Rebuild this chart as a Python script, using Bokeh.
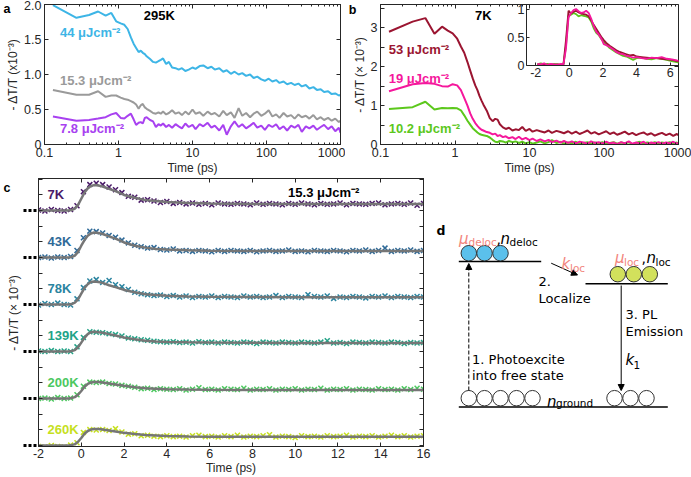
import numpy as np
from bokeh.plotting import figure
from bokeh.layouts import column, row
from bokeh.models import (Range1d, LinearScale, LinearAxis, LogAxis, FixedTicker,
                          CustomJSTickFormatter, Label, Arrow, NormalHead)
from bokeh.embed import file_html
from bokeh.resources import INLINE

FONT = "Liberation Sans"
DFONT = "DejaVu Sans"
AX = "#262626"

# ---------------- data: panels a / b (time in ps, -dT/T x1e-3) ----------------
t_log = [0.13, 0.27, 0.40, 0.53, 0.67, 0.80, 0.93, 1.07, 1.2, 1.33,
         1.47, 1.6, 1.73, 1.87, 2.0, 2.13, 2.27, 2.4, 2.67, 2.93,
         3.2, 3.47, 3.73, 4.0, 4.4, 4.8, 5.3, 5.9, 6.5, 7.2,
         8.0, 8.9, 10, 11, 12.5, 14, 16, 18, 20, 23,
         26, 29, 33, 37, 42, 47, 53, 60, 67, 75,
         85, 95, 107, 120, 135, 150, 170, 190, 215, 240,
         270, 300, 340, 380, 430, 480, 540, 600, 680, 760,
         850, 950, 1000]

a_44 = [1.99, 1.81, 1.85, 1.90, 1.84, 1.88, 1.76, 1.73, 1.71, 1.65,
        1.53, 1.44, 1.38, 1.32, 1.34, 1.31, 1.29, 1.26, 1.22, 1.18,
        1.17, 1.19, 1.21, 1.23, 1.15, 1.18, 1.10, 1.09, 1.07, 1.09,
        1.05, 1.07, 1.10, 1.08, 1.12, 1.13, 1.09, 1.11, 1.07, 1.09,
        1.04, 1.06, 1.01, 1.04, 1.00, 1.02, 0.98, 1.00, 0.95, 0.97,
        0.93, 0.91, 0.94, 0.90, 0.92, 0.88, 0.90, 0.86, 0.88, 0.85,
        0.87, 0.83, 0.85, 0.80, 0.82, 0.78, 0.79, 0.75, 0.76, 0.72,
        0.73, 0.70, 0.71]
a_15 = [0.78, 0.71, 0.71, 0.76, 0.68, 0.70, 0.70, 0.67, 0.65, 0.64,
        0.62, 0.60, 0.57, 0.51, 0.56, 0.58, 0.53, 0.51, 0.48, 0.45,
        0.44, 0.46, 0.44, 0.47, 0.43, 0.45, 0.49, 0.44, 0.46, 0.42,
        0.47, 0.43, 0.50, 0.44, 0.46, 0.41, 0.47, 0.43, 0.45, 0.40,
        0.48, 0.42, 0.46, 0.38, 0.52, 0.41, 0.45, 0.39, 0.44, 0.47,
        0.41, 0.44, 0.49, 0.40, 0.43, 0.38, 0.45, 0.40, 0.42, 0.37,
        0.43, 0.39, 0.41, 0.37, 0.42, 0.36, 0.39, 0.35, 0.38, 0.34,
        0.37, 0.32, 0.34]
a_7 = [0.40, 0.34, 0.35, 0.37, 0.39, 0.43, 0.45, 0.38, 0.37, 0.41,
       0.44, 0.36, 0.28, 0.31, 0.32, 0.30, 0.38, 0.39, 0.35, 0.33,
       0.25, 0.29, 0.27, 0.30, 0.25, 0.28, 0.24, 0.29, 0.26, 0.23,
       0.30, 0.25, 0.28, 0.22, 0.29, 0.26, 0.31, 0.24, 0.27, 0.20,
       0.28, 0.14, 0.26, 0.33, 0.25, 0.29, 0.23, 0.27, 0.31, 0.24,
       0.27, 0.21, 0.28, 0.25, 0.29, 0.22, 0.26, 0.20, 0.27, 0.24,
       0.28, 0.18, 0.26, 0.23, 0.27, 0.21, 0.25, 0.28, 0.22, 0.26,
       0.19, 0.24, 0.17]

b_53 = [2.90, 3.16, 3.25, 2.85, 3.03, 2.93, 2.86, 2.72, 2.52, 2.36,
        2.12, 1.90, 1.70, 1.52, 1.40, 1.25, 1.13, 1.03, 0.87, 0.68,
        0.60, 0.66, 0.64, 0.52, 0.44, 0.40, 0.43, 0.36, 0.39, 0.37,
        0.45, 0.35, 0.40, 0.33, 0.37, 0.34, 0.31, 0.36, 0.30, 0.35,
        0.32, 0.29, 0.34, 0.28, 0.33, 0.27, 0.31, 0.36, 0.28, 0.32,
        0.26, 0.30, 0.34, 0.27, 0.31, 0.25, 0.29, 0.33, 0.26, 0.30,
        0.24, 0.28, 0.31, 0.25, 0.29, 0.23, 0.27, 0.30, 0.24, 0.28,
        0.22, 0.27, 0.24]
b_19 = [1.37, 1.55, 1.58, 1.56, 1.50, 1.49, 1.55, 1.52, 1.40, 1.20,
        1.00, 0.80, 0.66, 0.55, 0.48, 0.42, 0.38, 0.36, 0.32, 0.30,
        0.26, 0.28, 0.22, 0.24, 0.19, 0.21, 0.16, 0.19, 0.14, 0.20,
        0.13, 0.17, 0.11, 0.15, 0.09, 0.13, 0.08, 0.12, 0.06, 0.10,
        0.05, 0.09, 0.04, 0.08, 0.03, 0.07, 0.05, 0.02, 0.08, 0.04,
        0.06, 0.02, 0.07, 0.03, 0.05, 0.01, 0.06, 0.03, 0.08, 0.02,
        0.05, 0.03, 0.07, 0.01, 0.05, 0.03, 0.06, 0.02, 0.05, 0.03,
        0.07, 0.02, 0.04]
b_10 = [0.91, 0.96, 1.10, 0.90, 0.94, 0.93, 0.94, 0.93, 0.88, 0.75,
        0.61, 0.51, 0.42, 0.36, 0.31, 0.27, 0.25, 0.24, 0.22, 0.18,
        0.12, 0.07, 0.06, 0.09, 0.08, 0.05, 0.09, 0.06, 0.08, 0.04,
        0.07, 0.03, 0.06, 0.02, 0.05, 0.08, 0.03, 0.06, 0.11, 0.04,
        0.07, 0.02, 0.05, 0.03, 0.07, 0.01, 0.04, 0.06, 0.02, 0.05,
        0.03, 0.06, 0.01, 0.04, 0.06, 0.02, 0.05, 0.03, 0.06, 0.01,
        0.04, 0.07, 0.02, 0.05, 0.03, 0.06, 0.02, 0.05, 0.03, 0.06,
        0.02, 0.05, 0.03]

# inset of b (normalised)
t_inset = [-1.9, -1.7, -1.5, -1.3, -1.1, -0.9, -0.7, -0.5, -0.35, -0.2,
           -0.05, 0.1, 0.25, 0.4, 0.55, 0.7, 0.85, 1.0, 1.15, 1.3,
           1.45, 1.6, 1.75, 1.9, 2.05, 2.2, 2.4, 2.6, 2.8, 3.0,
           3.2, 3.4, 3.6, 3.8, 4.0, 4.3, 4.6, 4.9, 5.2, 5.5,
           5.8, 6.1, 6.4, 6.6]
in_53 = [0.02, 0.01, 0.02, 0.01, 0.02, 0.01, 0.02, 0.01, 0.02, 0.45,
         0.97, 0.92, 0.95, 0.97, 0.94, 0.92, 0.91, 0.90, 0.87, 0.80,
         0.72, 0.65, 0.58, 0.51, 0.45, 0.40, 0.35, 0.31, 0.27, 0.24,
         0.22, 0.20, 0.18, 0.19, 0.16, 0.15, 0.14, 0.13, 0.13, 0.12,
         0.11, 0.10, 0.08, 0.07]
in_19 = [0.03, 0.02, 0.04, 0.01, 0.03, 0.02, 0.01, 0.03, 0.02, 0.30,
         0.85, 0.93, 0.98, 1.00, 0.96, 0.93, 0.94, 0.97, 0.93, 0.83,
         0.70, 0.60, 0.55, 0.48, 0.38, 0.36, 0.33, 0.29, 0.24, 0.21,
         0.20, 0.17, 0.16, 0.14, 0.15, 0.13, 0.12, 0.14, 0.13, 0.15,
         0.12, 0.11, 0.09, 0.08]
in_10 = [0.02, 0.04, 0.02, 0.03, 0.01, 0.03, 0.02, 0.01, 0.02, 0.35,
         0.88, 0.90, 0.93, 0.91, 0.87, 0.89, 0.88, 0.87, 0.85, 0.78,
         0.66, 0.58, 0.54, 0.47, 0.42, 0.37, 0.31, 0.27, 0.23, 0.20,
         0.17, 0.16, 0.13, 0.10, 0.13, 0.14, 0.12, 0.11, 0.13, 0.12,
         0.10, 0.08, 0.06, 0.05]

# ---------------- data: panel c (offset traces) ----------------
c_temps = ["7K", "43K", "78K", "139K", "200K", "260K"]
c_offsets = [5, 4, 3, 2, 1, 0]
c_colors = ["#4a1a68", "#2f6a98", "#2a84a0", "#22a387", "#4cc85f", "#c6e01e"]

t_fit = [-2, -0.6, -0.45, -0.3, -0.15, 0, 0.15, 0.3, 0.45, 0.6, 0.8, 1.0, 1.3,
         1.6, 2.0, 2.5, 3.0, 3.5, 4.0, 5, 6, 8, 10, 12, 14, 16]
fit_7 = [0, 0, 0.01, 0.04, 0.12, 0.25, 0.38, 0.47, 0.52, 0.54, 0.53, 0.51, 0.46,
         0.41, 0.33, 0.27, 0.22, 0.20, 0.18, 0.16, 0.15, 0.14, 0.14, 0.14, 0.14, 0.14]
fit_43 = [0, 0, 0.01, 0.04, 0.12, 0.25, 0.37, 0.46, 0.51, 0.53, 0.52, 0.50, 0.45,
          0.40, 0.32, 0.25, 0.21, 0.18, 0.17, 0.155, 0.145, 0.14, 0.14, 0.14, 0.14, 0.14]
fit_78 = [0, 0, 0.01, 0.04, 0.11, 0.23, 0.35, 0.43, 0.48, 0.49, 0.48, 0.46, 0.41,
          0.37, 0.31, 0.26, 0.22, 0.20, 0.185, 0.17, 0.165, 0.16, 0.155, 0.155, 0.155, 0.155]
fit_139 = [0, 0, 0.01, 0.03, 0.09, 0.19, 0.29, 0.37, 0.41, 0.42, 0.41, 0.40, 0.37,
           0.34, 0.30, 0.26, 0.23, 0.215, 0.205, 0.195, 0.19, 0.185, 0.18, 0.18, 0.18, 0.18]
fit_200 = [0, 0, 0.01, 0.03, 0.08, 0.16, 0.25, 0.31, 0.34, 0.35, 0.35, 0.34, 0.32,
           0.30, 0.27, 0.24, 0.22, 0.21, 0.20, 0.19, 0.185, 0.18, 0.18, 0.18, 0.18, 0.18]
fit_260 = [0, 0, 0.01, 0.03, 0.08, 0.16, 0.25, 0.31, 0.34, 0.35, 0.35, 0.34, 0.32,
           0.30, 0.27, 0.245, 0.225, 0.215, 0.205, 0.195, 0.19, 0.19, 0.19, 0.19, 0.19, 0.19]

t_marks = [-2.0, -1.7, -1.4, -1.1, -0.8, -0.5, -0.2, 0.1, 0.4, 0.7,
           1.0, 1.3, 1.6, 1.9, 2.2, 2.5, 2.8, 3.1, 3.4, 3.7,
           4.0, 4.3, 4.6, 4.9, 5.2, 5.5, 5.8, 6.1, 6.4, 6.7,
           7.0, 7.3, 7.6, 7.9, 8.2, 8.5, 8.8, 9.1, 9.4, 9.7,
           10.0, 10.3, 10.6, 10.9, 11.2, 11.5, 11.8, 12.1, 12.4, 12.7,
           13.0, 13.3, 13.6, 13.9, 14.2, 14.5, 14.8, 15.1, 15.4, 15.7,
           16.0]
m_7 = [0.01, -0.01, 0.02, 0.00, -0.01, 0.02, 0.10, 0.40, 0.55, 0.58,
       0.55, 0.50, 0.44, 0.38, 0.30, 0.28, 0.22, 0.23, 0.20, 0.17,
       0.19, 0.15, 0.17, 0.14, 0.16, 0.13, 0.15, 0.12, 0.16, 0.14,
       0.13, 0.15, 0.14, 0.12, 0.16, 0.13, 0.15, 0.14, 0.12, 0.15,
       0.13, 0.16, 0.14, 0.12, 0.15, 0.13, 0.14, 0.16, 0.12, 0.15,
       0.14, 0.13, 0.15, 0.16, 0.12, 0.14, 0.15, 0.13, 0.16, 0.11,
       0.15]
m_43 = [0.00, 0.01, -0.01, 0.01, 0.00, 0.02, 0.15, 0.42, 0.56, 0.55,
        0.52, 0.47, 0.43, 0.37, 0.31, 0.26, 0.23, 0.20, 0.21, 0.17,
        0.16, 0.18, 0.14, 0.15, 0.13, 0.15, 0.14, 0.12, 0.15, 0.13,
        0.15, 0.14, 0.13, 0.15, 0.12, 0.14, 0.15, 0.13, 0.14, 0.16,
        0.13, 0.14, 0.12, 0.15, 0.14, 0.13, 0.15, 0.14, 0.12, 0.15,
        0.14, 0.16, 0.13, 0.15, 0.20, 0.13, 0.15, 0.14, 0.16, 0.13,
        0.15]
m_78 = [-0.01, 0.02, 0.00, 0.03, 0.00, -0.01, 0.12, 0.36, 0.50, 0.53,
        0.47, 0.51, 0.42, 0.38, 0.32, 0.26, 0.23, 0.21, 0.19, 0.20,
        0.17, 0.19, 0.16, 0.18, 0.15, 0.17, 0.16, 0.18, 0.15, 0.17,
        0.16, 0.15, 0.18, 0.16, 0.17, 0.15, 0.16, 0.19, 0.15, 0.17,
        0.16, 0.15, 0.21, 0.17, 0.16, 0.18, 0.13, 0.16, 0.15, 0.17,
        0.16, 0.14, 0.17, 0.16, 0.18, 0.15, 0.17, 0.16, 0.15, 0.17,
        0.16]
m_139 = [0.01, 0.00, 0.02, 0.00, 0.01, 0.00, 0.10, 0.30, 0.42, 0.41,
         0.40, 0.38, 0.36, 0.33, 0.29, 0.27, 0.25, 0.24, 0.22, 0.21,
         0.20, 0.21, 0.19, 0.20, 0.18, 0.21, 0.19, 0.20, 0.18, 0.20,
         0.19, 0.18, 0.20, 0.19, 0.17, 0.20, 0.19, 0.18, 0.20, 0.19,
         0.18, 0.20, 0.19, 0.18, 0.20, 0.23, 0.18, 0.19, 0.17, 0.20,
         0.19, 0.18, 0.20, 0.19, 0.18, 0.20, 0.19, 0.17, 0.19, 0.18,
         0.19]
m_200 = [0.00, 0.01, -0.01, 0.02, 0.00, 0.01, 0.08, 0.26, 0.35, 0.34,
         0.35, 0.32, 0.31, 0.28, 0.26, 0.24, 0.21, 0.22, 0.19, 0.21,
         0.20, 0.19, 0.21, 0.18, 0.20, 0.23, 0.19, 0.20, 0.18, 0.21,
         0.20, 0.19, 0.22, 0.18, 0.20, 0.19, 0.21, 0.18, 0.20, 0.19,
         0.21, 0.18, 0.20, 0.19, 0.22, 0.18, 0.20, 0.19, 0.21, 0.18,
         0.20, 0.19, 0.18, 0.21, 0.19, 0.20, 0.18, 0.21, 0.19, 0.22,
         0.20]
m_260 = [-0.02, -0.03, 0.00, -0.02, -0.03, 0.01, 0.06, 0.28, 0.34, 0.33,
         0.34, 0.32, 0.36, 0.29, 0.24, 0.25, 0.21, 0.22, 0.20, 0.19,
         0.21, 0.19, 0.20, 0.18, 0.21, 0.22, 0.19, 0.20, 0.18, 0.21,
         0.19, 0.22, 0.18, 0.20, 0.19, 0.21, 0.23, 0.18, 0.20, 0.19,
         0.17, 0.21, 0.19, 0.20, 0.18, 0.21, 0.19, 0.20, 0.22, 0.18,
         0.20, 0.19, 0.21, 0.18, 0.20, 0.22, 0.19, 0.21, 0.18, 0.20,
         0.21]
c_fits = [fit_7, fit_43, fit_78, fit_139, fit_200, fit_260]
c_marks = [m_7, m_43, m_78, m_139, m_200, m_260]

for arr in (a_44, a_15, a_7, b_53, b_19, b_10):
    assert len(arr) == len(t_log)
for arr in (in_53, in_19, in_10):
    assert len(arr) == len(t_inset)
for arr in c_fits:
    assert len(arr) == len(t_fit)
for arr in c_marks:
    assert len(arr) == len(t_marks)

# ---------------- helpers ----------------
def sty(ax, labels=True, tin=4, minin=2):
    ax.axis_line_color = AX
    ax.axis_line_width = 1
    ax.major_tick_line_color = AX
    ax.minor_tick_line_color = AX
    ax.major_tick_in = tin
    ax.major_tick_out = 0
    ax.minor_tick_in = minin
    ax.minor_tick_out = 0
    ax.major_label_text_font = FONT
    ax.major_label_text_color = AX if labels else None
    ax.major_label_text_font_size = "12.5px" if labels else "0px"
    ax.major_label_standoff = 3 if labels else 0
    ax.axis_label_text_font = FONT
    ax.axis_label_text_font_size = "12px"
    ax.axis_label_text_font_style = "normal"
    ax.axis_label_text_color = AX
    ax.axis_label_standoff = 1


def base_fig(w, h, xr, yr, xtype, l, r, t, b):
    p = figure(width=w, height=h, x_range=xr, y_range=yr, x_axis_type=xtype,
               output_backend="svg", toolbar_location=None,
               min_border_left=l, min_border_right=r, min_border_top=t,
               min_border_bottom=b)
    p.grid.visible = False
    p.outline_line_color = AX
    p.outline_line_width = 1
    return p


def lab(p, x, y, text, color="black", size="13px", bold=True, align="left"):
    p.add_layout(Label(x=x, y=y, text=text, text_color=color, text_font=FONT,
                       text_font_size=size,
                       text_font_style="bold" if bold else "normal",
                       text_align=align, text_baseline="middle"))


def letter(p, y, text):
    # panel letter: the single tick label of a bare axis stacked left of the y axis
    ax = LinearAxis(ticker=FixedTicker(ticks=[y]),
                    formatter=CustomJSTickFormatter(code="return '%s';" % text))
    ax.axis_line_color = None
    ax.major_tick_line_color = None
    ax.minor_tick_line_color = None
    ax.major_tick_in = 0
    ax.major_tick_out = 0
    ax.minor_tick_in = 0
    ax.minor_tick_out = 0
    ax.major_label_standoff = -7
    ax.major_label_text_font = FONT
    ax.major_label_text_font_size = "12.5px"
    ax.major_label_text_font_style = "bold"
    ax.major_label_text_color = "black"
    p.add_layout(ax, "left")


log_major = [0.1, 1, 10, 100, 1000]
log_minor = [m * 10.0 ** e for e in (-1, 0, 1, 2) for m in range(2, 10)]
log_fmt = "return tick.toString();"


def log_axes(p, top_bounds=None):
    xa = p.xaxis[0]
    xa.ticker = FixedTicker(ticks=log_major, minor_ticks=log_minor)
    xa.formatter = CustomJSTickFormatter(code=log_fmt)
    xa.axis_label = "Time (ps)"
    sty(xa)
    top = LogAxis(ticker=FixedTicker(ticks=log_major, minor_ticks=log_minor),
                  formatter=CustomJSTickFormatter(code=log_fmt))
    if top_bounds is not None:
        top.bounds = top_bounds
    sty(top, labels=False)
    p.add_layout(top, "above")


# ---------------- panel a ----------------
fa = base_fig(345, 177, Range1d(0.1, 1000), Range1d(0, 2), "log", 36, 5, 4, 33)
log_axes(fa)
ya = fa.yaxis[0]
ya.ticker = FixedTicker(ticks=[0, 0.5, 1, 1.5, 2])
ya.formatter = CustomJSTickFormatter(code="return tick == 0 ? '0' : tick.toFixed(1);")
ya.axis_label = "- ΔT/T (x10⁻³)"
sty(ya)
ra = LinearAxis(ticker=FixedTicker(ticks=[0, 0.5, 1, 1.5, 2]))
sty(ra, labels=False)
fa.add_layout(ra, "right")

col_44, col_15, col_7 = "#3db5e6", "#9a9a9a", "#a841f0"
fa.line(t_log, a_15, line_color=col_15, line_width=2)
fa.line(t_log, a_7, line_color=col_7, line_width=2)
fa.line(t_log, a_44, line_color=col_44, line_width=2)
lab(fa, 2.19, 1.84, "295K")
lab(fa, 0.162, 1.60, "44 μJcm⁻²", col_44)
lab(fa, 0.162, 0.91, "15.3 μJcm⁻²", col_15)
lab(fa, 0.162, 0.23, "7.8 μJcm⁻²", col_7)
letter(fa, 1.94, "a")

# ---------------- panel b ----------------
fb = base_fig(346, 177, Range1d(0.1, 1000), Range1d(0, 3.6), "log", 31, 13, 4, 33)
log_axes(fb, top_bounds=(0.1, 9.2))
yb = fb.yaxis[0]
yb.ticker = FixedTicker(ticks=[0, 1, 2, 3], minor_ticks=[0.5, 1.5, 2.5, 3.5])
yb.axis_label = "- ΔT/T (× 10⁻³)"
sty(yb, minin=4)
rb = LinearAxis(ticker=FixedTicker(ticks=[0, 0.5, 1, 1.5, 2]), bounds=(0, 2.03))
sty(rb, labels=False)
fb.add_layout(rb, "right")

col_53, col_19, col_10 = "#9b1531", "#f5179c", "#5cc81c"
fb.line(t_log, b_53, line_color=col_53, line_width=2)
fb.line(t_log, b_10, line_color=col_10, line_width=2)
fb.line(t_log, b_19, line_color=col_19, line_width=2)
lab(fb, 1.86, 3.31, "7K")
lab(fb, 0.129, 2.45, "53 μJcm⁻²", col_53)
lab(fb, 0.129, 1.71, "19 μJcm⁻²", col_19)
lab(fb, 0.129, 0.42, "10.2 μJcm⁻²", col_10)

# inset: linear ranges occupying the top-right corner of the frame
ix_lo, ix_hi, fx = -2.55, 6.5, 0.490
iy_lo, iy_hi, fy = 0.0, 1.08, 0.564
fb.extra_x_ranges = {"ix": Range1d(ix_hi - (ix_hi - ix_lo) / (1 - fx), ix_hi)}
fb.extra_y_ranges = {"iy": Range1d(iy_hi - (iy_hi - iy_lo) / (1 - fy), iy_hi)}
fb.extra_x_scales = {"ix": LinearScale()}
fb.extra_y_scales = {"iy": LinearScale()}
fb.line(t_inset, in_10, line_color=col_10, line_width=1.8, x_range_name="ix", y_range_name="iy")
fb.line(t_inset, in_53, line_color=col_53, line_width=1.8, x_range_name="ix", y_range_name="iy")
fb.line(t_inset, in_19, line_color=col_19, line_width=1.8, x_range_name="ix", y_range_name="iy")
ixa = LinearAxis(x_range_name="ix", y_range_name="iy", fixed_location=0,
                 bounds=(ix_lo, ix_hi), ticker=FixedTicker(ticks=[-2, 0, 2, 4, 6]),
                 formatter=CustomJSTickFormatter(code="return tick.toString();"))
sty(ixa, tin=3)
ixa.major_label_standoff = 2
fb.add_layout(ixa, "below")
iya = LinearAxis(x_range_name="ix", y_range_name="iy", fixed_location=ix_lo,
                 bounds=(iy_lo, iy_hi), ticker=FixedTicker(ticks=[0, 0.5, 1]),
                 formatter=CustomJSTickFormatter(code="return tick.toString();"))
sty(iya, tin=3)
iya.major_label_standoff = 2
fb.add_layout(iya, "left")
letter(fb, 3.47, "b")

# ---------------- panel c ----------------
fc = base_fig(431, 300, Range1d(-2, 16), Range1d(-0.02, 5.68), "linear", 36, 8, 1, 30)
xc = fc.xaxis[0]
xc.ticker = FixedTicker(ticks=list(range(-2, 17, 2)))
xc.formatter = CustomJSTickFormatter(code="return tick.toString();")
xc.axis_label = "Time (ps)"
sty(xc)
xc.major_label_standoff = 2
xc.axis_label_standoff = 0
tc = LinearAxis(ticker=FixedTicker(ticks=list(range(-2, 17, 2))))
sty(tc, labels=False)
fc.add_layout(tc, "above")
thirds = [i / 3 for i in range(18)]
yc = fc.yaxis[0]
yc.ticker = FixedTicker(ticks=c_offsets, minor_ticks=thirds)
yc.axis_label = "- ΔT/T (× 10⁻³)"
sty(yc, labels=False, minin=4)
yc.major_tick_in = 0
yc.major_tick_out = 15
yc.major_tick_line_width = 3
yc.major_tick_line_color = "black"
yc.major_tick_line_dash = "3 2"
yc.axis_label_standoff = 3
rc = LinearAxis(ticker=FixedTicker(ticks=thirds))
sty(rc, labels=False)
fc.add_layout(rc, "right")
letter(fc, 5.48, "c")

for name, off, colr, fit, mk in zip(c_temps, c_offsets, c_colors, c_fits, c_marks):
    fc.scatter(t_marks, [v + off for v in mk], marker="x", size=7,
               line_color=colr, line_width=1.5)
    fc.line(t_fit, [v + off for v in fit], line_color="#767676", line_width=2.5)
    lab(fc, -1.58, off + 0.34, name, colr)
lab(fc, 9.67, 5.38, "15.3 μJcm⁻²")

# ---------------- panel d (schematic, coordinates in reference pixels) ----------------
fd = figure(frame_width=260, frame_height=300, x_range=Range1d(431, 691),
            y_range=Range1d(477, 177), output_backend="svg", toolbar_location=None,
            min_border_left=0, min_border_right=0, min_border_top=0,
            min_border_bottom=0, x_axis_location=None, y_axis_location=None)
fd.grid.visible = False
fd.outline_line_color = None

SALMON = "#f2857d"
fd.segment(x0=[458.3, 585, 458.3], y0=[260, 282.3, 405.5],
           x1=[540.7, 667.3, 667.3], y1=[260, 282.3, 405.5],
           line_color="black", line_width=1.5)
fd.scatter([468.3, 484, 500], [251.7] * 3, size=15.5, fill_color="#5bc0eb",
           line_color="#333333", line_width=1)
fd.scatter([617.3, 633.3, 649.3], [272.7] * 3, size=15.5, fill_color="#d2e15c",
           line_color="#333333", line_width=1)
fd.scatter([468.3, 484, 500, 516, 532, 614, 630, 646], [396.7] * 8, size=15.5,
           fill_color="white", line_color="#333333", line_width=1)
fd.add_layout(Arrow(x_start=468.3, y_start=389, x_end=468.3, y_end=262,
                    line_dash="4 2", line_width=1,
                    end=NormalHead(size=6, fill_color="black", line_color="black")))
fd.add_layout(Arrow(x_start=620.7, y_start=284, x_end=620.7, y_end=389,
                    line_width=1,
                    end=NormalHead(size=6, fill_color="black", line_color="black")))
fd.add_layout(Arrow(x_start=550.7, y_start=261.7, x_end=577, y_end=273.5,
                    line_width=1,
                    end=NormalHead(size=6, fill_color="black", line_color="black")))


def dtext(x, y, s, size="13px", color="black", style="normal"):
    fd.add_layout(Label(x=x, y=y, text=s, text_font=DFONT, text_font_size=size,
                        text_color=color, text_font_style=style,
                        text_align="left", text_baseline="alphabetic"))


dtext(436, 229, "d", size="12.5px", style="bold")
dtext(458.5, 237, "μ", size="15px", color=SALMON, style="italic")
dtext(468, 240.5, "deloc", size="10.5px", color=SALMON)
dtext(496, 237, ",", size="14px")
dtext(500, 237, "n", size="15px", style="italic")
dtext(509, 240.5, "deloc", size="10.5px")
dtext(561, 262, "k", size="15px", color=SALMON, style="italic")
dtext(569.5, 266, "loc", size="10.5px", color=SALMON)
dtext(614.5, 256, "μ", size="15px", color=SALMON, style="italic")
dtext(623.5, 260, "loc", size="10.5px", color=SALMON)
dtext(641, 256, ",", size="14px")
dtext(646, 256, "n", size="15px", style="italic")
dtext(655, 260, "loc", size="10.5px")
dtext(538, 280, "2.")
dtext(538, 297, "Localize")
dtext(625, 313, "3. PL")
dtext(625, 330, "Emission")
dtext(625, 358, "k", size="15px", style="italic")
dtext(633, 363, "1", size="10.5px")
dtext(471.5, 358, "1. Photoexcite")
dtext(471.5, 373.5, "into free state")
dtext(546.5, 400, "n", size="15px", style="italic")
dtext(555.5, 401.5, "ground", size="10.5px")

layout = column(row(fa, fb), row(fc, fd))
open("out.html", "w").write(file_html(layout, INLINE))
